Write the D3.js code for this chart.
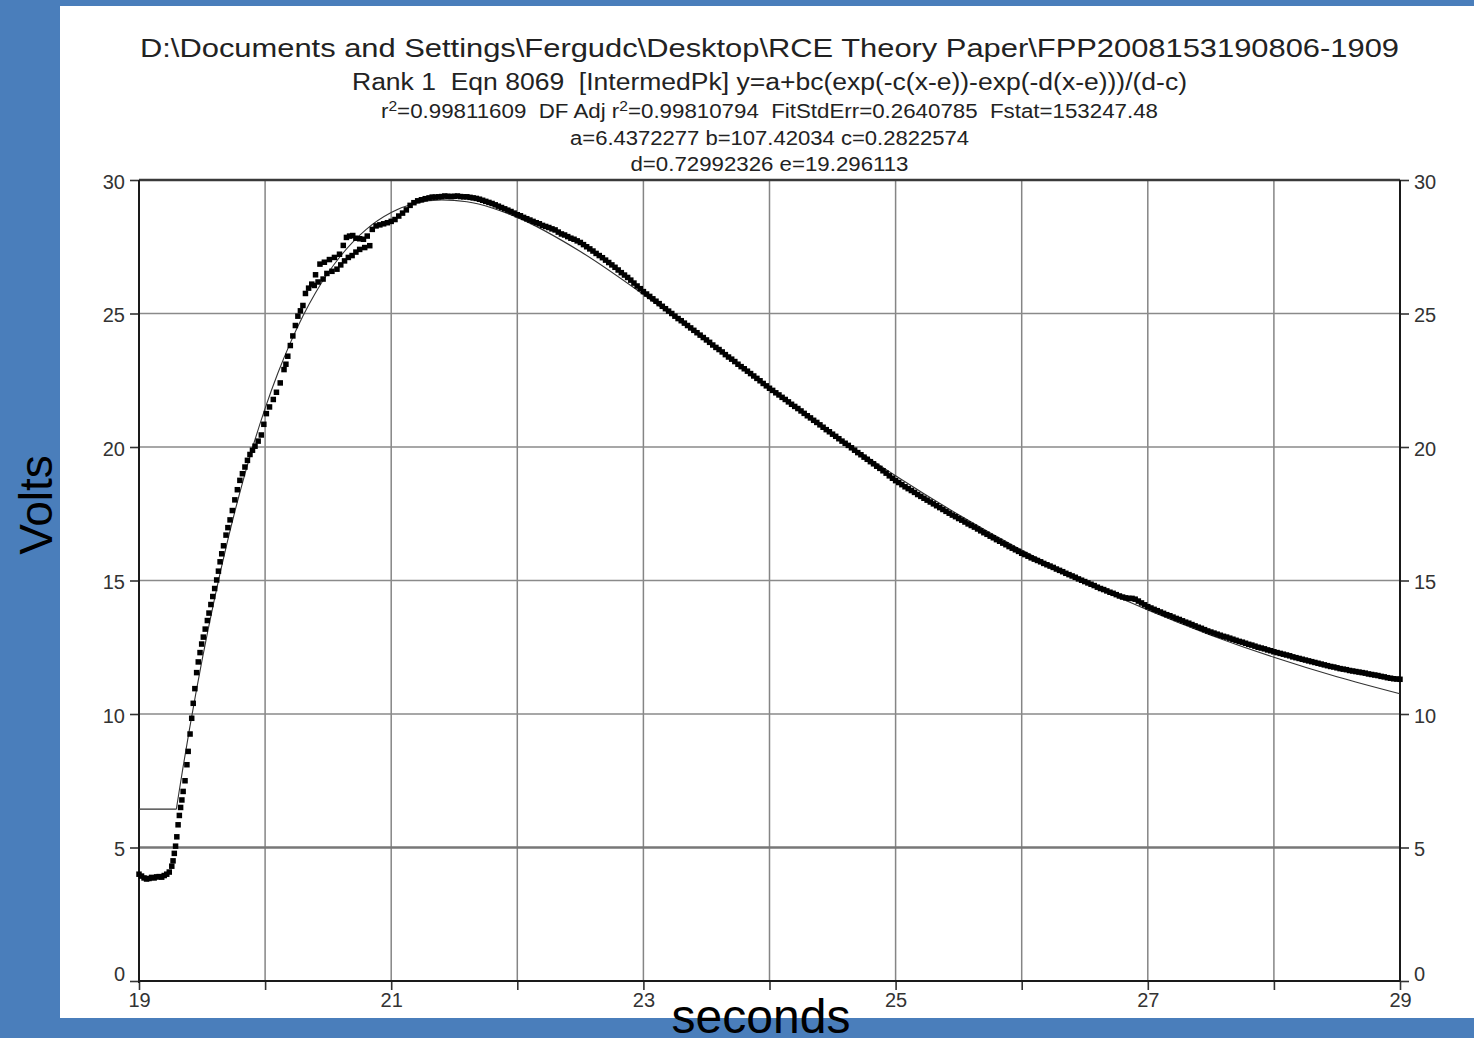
<!DOCTYPE html>
<html><head><meta charset="utf-8">
<script src="https://cdn.jsdelivr.net/npm/d3@7"></script>
<style>
html,body{margin:0;padding:0;background:#4a7ebb;}
svg{display:block;}
text{white-space:pre;}
</style></head><body>
<svg id="chart" width="1474" height="1038"></svg>
<script>
// ---------- data ----------
const titleLine1 = "D:\\Documents and Settings\\Fergudc\\Desktop\\RCE Theory Paper\\FPP2008153190806-1909";
const titleLine2 = "Rank 1  Eqn 8069  [IntermedPk] y=a+bc(exp(-c(x-e))-exp(-d(x-e)))/(d-c)";
const titleLine3 = [["r",""],["2","sup"],["=0.99811609  DF Adj r",""],["2","sup"],["=0.99810794  FitStdErr=0.2640785  Fstat=153247.48",""]];
const titleLine4 = "a=6.4372277 b=107.42034 c=0.2822574";
const titleLine5 = "d=0.72992326 e=19.296113";
const xLabel = "seconds";
const yLabel = "Volts";

const yTicks = [0, 5, 10, 15, 20, 25, 30];
const xTicks = [19, 20, 21, 22, 23, 24, 25, 26, 27, 28, 29];
const xTickLabels = ["19", "", "21", "", "23", "", "25", "", "27", "", "29"];

// measured samples (seconds, volts)
const secondsData = [
 19.00,19.02,19.04,19.06,19.08,19.10,19.12,19.14,19.16,19.18,19.20,19.22,19.24,
 19.26,19.27,19.28,19.29,19.30,19.31,19.32,19.33,19.34,19.35,19.365,19.38,19.39,19.405,19.418,19.43,19.443,19.457,19.47,19.484,19.497,19.51,19.525,19.542,19.555,19.57,19.585,19.60,19.616,19.63,19.643,19.656,19.67,19.69,19.705,19.722,19.74,19.76,19.78,19.80,19.82,19.84,19.86,19.88,19.90,19.92,19.945,19.97,19.99,20.01,20.035,20.065,20.09,20.12,20.15,20.165,20.18,20.20,20.22,20.24,20.26,20.28,20.30,20.32,20.345,20.37,
 20.40,20.435,20.47,20.51,20.55,20.59,20.62,20.645,20.67,20.695,20.72,20.75,20.78,
 20.39,20.42,20.46,20.49,20.53,20.57,20.60,20.63,20.66,20.69,20.72,20.75,20.79,20.83,
 20.81,20.85,20.88,20.91,20.94,20.97,21.00,21.03,21.06,21.09,21.12,21.15,21.18,21.21,21.24,21.27,
 21.30,21.35,21.40,21.45,21.50,21.55,21.60,21.65,21.70,21.75,21.80,21.85,21.90,21.95,22.00,
 22.05,22.10,22.15,22.20,22.25,22.30,22.35,22.40,22.45,22.50,22.55,22.60,22.65,22.70,22.75,22.80,22.85,22.90,22.95,23.00,
 23.05,23.10,23.15,23.20,23.25,23.30,23.35,23.40,23.45,23.50,23.55,23.60,23.65,23.70,23.75,23.80,23.85,23.90,23.95,24.00,
 24.05,24.10,24.15,24.20,24.25,24.30,24.35,24.40,24.45,24.50,24.55,24.60,24.65,24.70,24.75,24.80,24.85,24.90,24.95,25.00,
 25.05,25.10,25.15,25.20,25.25,25.30,25.35,25.40,25.45,25.50,25.55,25.60,25.65,25.70,25.75,25.80,25.85,25.90,25.95,26.00,
 26.05,26.10,26.15,26.20,26.25,26.30,26.35,26.40,26.45,26.50,26.55,26.60,26.65,26.70,26.75,26.80,26.85,26.90,26.95,27.00,
 27.05,27.10,27.15,27.20,27.25,27.30,27.35,27.40,27.45,27.50,27.55,27.60,27.65,27.70,27.75,27.80,27.85,27.90,27.95,28.00,
 28.05,28.10,28.15,28.20,28.25,28.30,28.35,28.40,28.45,28.50,28.55,28.60,28.65,28.70,28.75,28.80,28.85,28.90,28.95,29.00
];
const voltsData = [
 4.00,3.93,3.86,3.82,3.84,3.88,3.86,3.90,3.91,3.89,3.95,4.00,4.08,
 4.30,4.50,4.78,5.05,5.40,5.85,6.20,6.50,6.78,7.10,7.50,8.10,8.60,9.25,9.84,10.40,10.95,11.55,11.95,12.30,12.62,12.88,13.18,13.50,13.78,14.10,14.40,14.70,15.02,15.35,15.70,16.00,16.30,16.70,16.98,17.27,17.62,18.02,18.40,18.75,19.00,19.25,19.50,19.72,19.88,20.03,20.22,20.45,20.85,21.25,21.50,21.78,22.05,22.40,22.90,23.10,23.40,23.80,24.16,24.55,24.90,25.10,25.30,25.75,25.95,26.10,
 26.45,26.85,26.92,27.02,27.10,27.22,27.55,27.85,27.90,27.92,27.82,27.80,27.78,
 26.05,26.18,26.29,26.50,26.58,26.66,26.82,26.97,27.10,27.17,27.30,27.40,27.47,27.54,
 27.90,28.15,28.28,28.32,28.36,28.40,28.45,28.52,28.65,28.76,28.88,29.05,29.15,29.22,29.26,29.30,
 29.33,29.36,29.38,29.39,29.39,29.38,29.37,29.33,29.28,29.20,29.12,29.02,28.92,28.82,28.70,
 28.60,28.50,28.40,28.30,28.22,28.13,27.98,27.88,27.78,27.66,27.50,27.34,27.17,27.00,26.82,26.63,26.44,26.25,26.03,25.82,
 25.64,25.46,25.27,25.09,24.90,24.73,24.55,24.37,24.19,24.01,23.82,23.65,23.46,23.29,23.10,22.93,22.75,22.57,22.38,22.20,
 22.03,21.86,21.69,21.52,21.35,21.17,21.00,20.83,20.65,20.48,20.31,20.14,19.97,19.79,19.62,19.45,19.28,19.11,18.92,18.74,
 18.59,18.44,18.30,18.15,18.01,17.87,17.73,17.59,17.45,17.32,17.19,17.06,16.93,16.79,16.66,16.53,16.40,16.27,16.15,16.02,
 15.91,15.80,15.70,15.59,15.49,15.38,15.27,15.17,15.06,14.96,14.86,14.75,14.66,14.56,14.47,14.38,14.33,14.30,14.16,14.02,
 13.92,13.82,13.72,13.63,13.54,13.44,13.35,13.25,13.16,13.07,12.99,12.91,12.84,12.76,12.69,12.61,12.54,12.47,12.40,12.33,
 12.27,12.21,12.14,12.08,12.02,11.96,11.90,11.84,11.78,11.73,11.68,11.63,11.59,11.55,11.50,11.46,11.41,11.36,11.32,11.30
];
// additional samples between the ones above (decay part)
const secondsMid = [
 21.325,21.375,21.425,21.475,21.525,21.575,21.625,21.675,21.725,21.775,21.825,21.875,21.925,21.975,
 22.025,22.075,22.125,22.175,22.225,22.275,22.325,22.375,22.425,22.475,22.525,22.575,22.625,22.675,22.725,22.775,22.825,22.875,22.925,22.975,
 23.025,23.075,23.125,23.175,23.225,23.275,23.325,23.375,23.425,23.475,23.525,23.575,23.625,23.675,23.725,23.775,23.825,23.875,23.925,23.975,
 24.025,24.075,24.125,24.175,24.225,24.275,24.325,24.375,24.425,24.475,24.525,24.575,24.625,24.675,24.725,24.775,24.825,24.875,24.925,24.975,
 25.025,25.075,25.125,25.175,25.225,25.275,25.325,25.375,25.425,25.475,25.525,25.575,25.625,25.675,25.725,25.775,25.825,25.875,25.925,25.975,
 26.025,26.075,26.125,26.175,26.225,26.275,26.325,26.375,26.425,26.475,26.525,26.575,26.625,26.675,26.725,26.775,26.825,26.875,26.925,26.975,
 27.025,27.075,27.125,27.175,27.225,27.275,27.325,27.375,27.425,27.475,27.525,27.575,27.625,27.675,27.725,27.775,27.825,27.875,27.925,27.975,
 28.025,28.075,28.125,28.175,28.225,28.275,28.325,28.375,28.425,28.475,28.525,28.575,28.625,28.675,28.725,28.775,28.825,28.875,28.925,28.975
];
const voltsMid = [
 29.36,29.37,29.40,29.38,29.40,29.37,29.35,29.31,29.24,29.16,29.07,28.97,28.87,28.76,
 28.66,28.55,28.45,28.36,28.26,28.17,28.05,27.94,27.82,27.72,27.58,27.42,27.25,27.09,26.91,26.73,26.53,26.35,26.14,25.93,
 25.73,25.55,25.37,25.18,25.00,24.81,24.64,24.46,24.28,24.10,23.92,23.73,23.56,23.37,23.20,23.01,22.84,22.66,22.48,22.29,
 22.12,21.95,21.78,21.60,21.44,21.26,21.09,20.92,20.74,20.57,20.40,20.22,20.06,19.88,19.71,19.54,19.37,19.20,19.02,18.83,
 18.67,18.51,18.37,18.22,18.08,17.94,17.80,17.66,17.52,17.39,17.26,17.12,17.00,16.86,16.73,16.60,16.47,16.34,16.21,16.09,
 15.97,15.85,15.75,15.64,15.54,15.43,15.33,15.22,15.12,15.01,14.91,14.81,14.70,14.61,14.52,14.42,14.35,14.33,14.23,14.09,
 13.97,13.87,13.77,13.68,13.58,13.49,13.40,13.30,13.21,13.11,13.03,12.95,12.88,12.80,12.72,12.65,12.58,12.50,12.44,12.37,
 12.30,12.24,12.18,12.11,12.05,11.99,11.93,11.87,11.81,11.76,11.70,11.66,11.61,11.57,11.53,11.48,11.44,11.39,11.34,11.31
];

// fitted curve
const fitSeconds = [19.00,19.296,19.30,19.35,19.40,19.45,19.50,19.60,19.70,19.80,19.90,20.00,20.10,20.20,20.30,20.40,20.60,20.80,21.00,21.20,21.40,21.60,21.80,22.00,22.50,23.00,23.50,24.00,24.50,25.00,25.50,26.00,26.50,27.00,27.50,28.00,28.50,29.00];
const fitVolts = [6.437,6.437,6.555,8.028,9.427,10.754,12.015,14.343,16.433,18.303,19.966,21.445,22.752,23.900,24.906,25.777,27.162,28.143,28.782,29.136,29.256,29.183,28.954,28.600,27.322,25.712,23.965,22.206,20.511,18.923,17.463,16.139,14.951,13.891,12.953,12.125,11.396,10.758];

// ---------- drawing ----------
const svg = d3.select("#chart");
const W = 1474, H = 1038;
const plot = {left: 139, right: 1400, top: 180, bottom: 981};
const x = d3.scaleLinear().domain([19, 29]).range([plot.left, plot.right]);
const y = d3.scaleLinear().domain([0, 30]).range([plot.bottom, plot.top]);
const FONT = "'Liberation Sans', Arial, sans-serif";

// backgrounds
svg.append("rect").attr("x", 0).attr("y", 0).attr("width", W).attr("height", H).attr("fill", "#4a7ebb");
svg.append("rect").attr("x", 60).attr("y", 6).attr("width", W - 60).attr("height", 1012).attr("fill", "#ffffff");

// gridlines
const g = svg.append("g");
g.selectAll("line.vgrid").data(xTicks.filter(d => d > 19 && d < 29)).enter().append("line")
  .attr("class", "vgrid")
  .attr("x1", d => x(d)).attr("x2", d => x(d))
  .attr("y1", plot.top).attr("y2", plot.bottom)
  .attr("stroke", "#858585").attr("stroke-width", 1.5);
g.selectAll("line.hgrid").data(yTicks.filter(d => d > 0 && d < 30)).enter().append("line")
  .attr("class", "hgrid")
  .attr("x1", plot.left).attr("x2", plot.right)
  .attr("y1", d => y(d)).attr("y2", d => y(d))
  .attr("stroke", d => d === 5 ? "#777" : "#8a8a8a").attr("stroke-width", d => d === 5 ? 2.6 : 1.7);

// axes
function styleAxis(sel) {
  sel.select(".domain").remove();
  sel.selectAll(".tick line").attr("stroke", "#333").attr("stroke-width", 1.6);
  sel.selectAll(".tick text").attr("fill", "#333").style("font-family", FONT).style("font-size", "20px");
}
const left = svg.append("g").attr("transform", `translate(${plot.left},0)`)
  .call(d3.axisLeft(y).tickValues(yTicks).tickSize(9).tickPadding(5).tickFormat(d3.format("d")));
styleAxis(left);
left.selectAll(".tick text").attr("dy", d => d === 0 ? "-0.05em" : "0.42em");

const right = svg.append("g").attr("transform", `translate(${plot.right},0)`)
  .call(d3.axisRight(y).tickValues(yTicks).tickSize(9).tickPadding(5).tickFormat(d3.format("d")));
styleAxis(right);
right.selectAll(".tick text").attr("dy", d => d === 0 ? "-0.05em" : "0.42em");

const bottom = svg.append("g").attr("transform", `translate(0,${plot.bottom})`)
  .call(d3.axisBottom(x).tickValues(xTicks).tickSize(9).tickPadding(3).tickFormat((d, i) => xTickLabels[i]));
styleAxis(bottom);

// frame
svg.append("line").attr("x1", plot.left).attr("x2", plot.right).attr("y1", plot.top).attr("y2", plot.top).attr("stroke", "#3a3a3a").attr("stroke-width", 2.5);
svg.append("line").attr("x1", plot.left).attr("x2", plot.right).attr("y1", plot.bottom).attr("y2", plot.bottom).attr("stroke", "#1a1a1a").attr("stroke-width", 2);
svg.append("line").attr("x1", plot.left).attr("x2", plot.left).attr("y1", plot.top).attr("y2", plot.bottom + 2).attr("stroke", "#1a1a1a").attr("stroke-width", 2);
svg.append("line").attr("x1", plot.right).attr("x2", plot.right).attr("y1", plot.top).attr("y2", plot.bottom).attr("stroke", "#1a1a1a").attr("stroke-width", 2);

// fit line
const fitData = fitSeconds.map((s, i) => [s, fitVolts[i]]);
svg.append("path").datum(fitData)
  .attr("d", d3.line().x(d => x(d[0])).y(d => y(d[1])).curve(d3.curveMonotoneX))
  .attr("fill", "none").attr("stroke", "#333").attr("stroke-width", 1.1);

// data markers
const pts = secondsData.map((s, i) => [s, voltsData[i]])
  .concat(secondsMid.map((s, i) => [s, voltsMid[i]]));
const ms = 5.5;
svg.append("g").selectAll("rect").data(pts).enter().append("rect")
  .attr("x", d => x(d[0]) - ms / 2).attr("y", d => y(d[1]) - ms / 2)
  .attr("width", ms).attr("height", ms).attr("fill", "#000");

// titles
const cx = (plot.left + plot.right) / 2;
function title(txt, yy, size, len) {
  return svg.append("text").attr("x", cx).attr("y", yy).attr("text-anchor", "middle")
    .style("font-family", FONT).style("font-size", size + "px").attr("fill", "#222")
    .attr("textLength", len).attr("lengthAdjust", "spacingAndGlyphs").text(txt);
}
title(titleLine1, 57, 26, 1259);
title(titleLine2, 90, 23, 835);
const t3 = svg.append("text").attr("x", cx).attr("y", 118).attr("text-anchor", "middle")
  .style("font-family", FONT).style("font-size", "20px").attr("fill", "#222")
  .attr("textLength", 777).attr("lengthAdjust", "spacingAndGlyphs");
titleLine3.forEach(([s, k]) => {
  const ts = t3.append("tspan").text(s);
  if (k === "sup") ts.attr("dy", -7).style("font-size", "14px");
  else ts.attr("dy", ts.node().previousSibling ? 7 : 0);
});
title(titleLine4, 145, 20, 399);
title(titleLine5, 171, 20, 278);

// axis titles
svg.append("text").attr("x", 761).attr("y", 1033).attr("text-anchor", "middle")
  .style("font-family", FONT).style("font-size", "48px").attr("fill", "#000").text(xLabel);
svg.append("text").attr("transform", "translate(52,505) rotate(-90)").attr("text-anchor", "middle")
  .style("font-family", FONT).style("font-size", "46px").attr("fill", "#000").text(yLabel);
</script>
</body></html>
